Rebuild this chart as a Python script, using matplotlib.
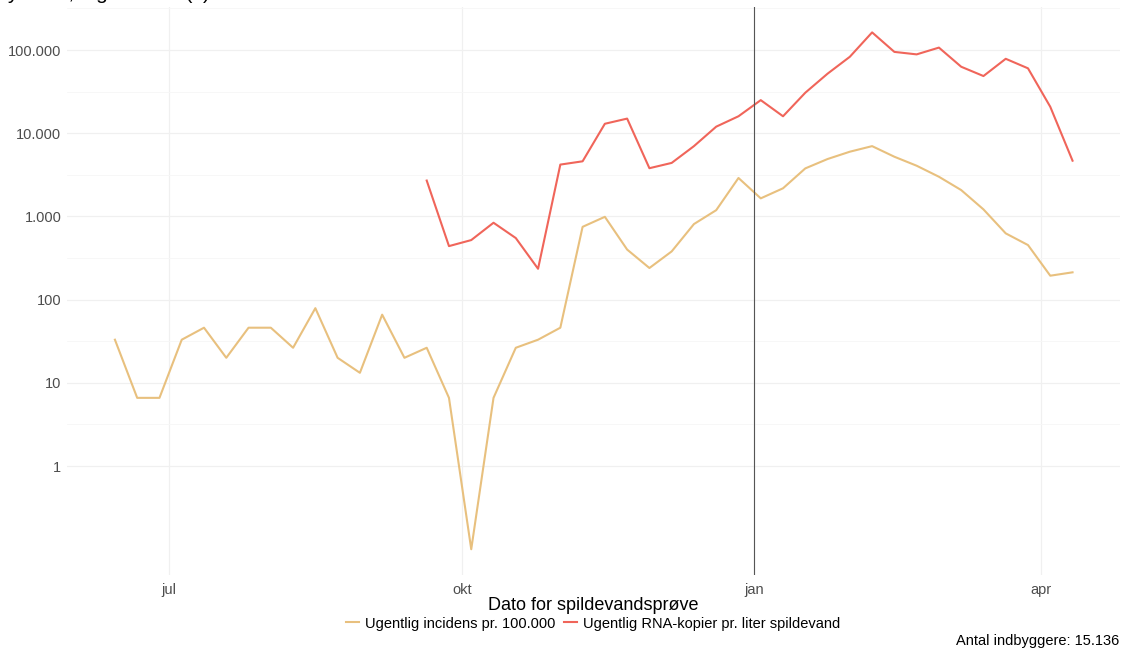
"""
Ugentlig incidens og RNA-kopier i spildevand, log-skala.
"""

import numpy as np
import pandas as pd
import matplotlib
matplotlib.use('Agg')
import matplotlib.pyplot as plt
import matplotlib.dates as mdates
from matplotlib.ticker import FixedLocator, FuncFormatter

plt.rcParams['font.family'] = ['Liberation Sans', 'DejaVu Sans']

# Weekly sample dates
dates = pd.date_range('2021-06-14', periods=44, freq='7D')

# Ugentlig incidens pr. 100.000 (all weeks)
incidens = [33, 6.6, 6.6, 33, 46, 20, 46, 46, 26.4, 79,
            20, 13.2, 66, 20, 26.4, 6.6, 0.1, 6.6, 26.4, 33,
            46, 750, 990, 400, 240, 380, 810, 1190, 2900, 1650,
            2180, 3780, 4900, 6000, 7000, 5220, 4070, 3000, 2075, 1216,
            626, 453, 194, 213]

# RNA-kopier pr. liter spildevand (from week index 14)
rna_start = 14
rna = [2700, 440, 520, 840, 550, 235, 4200, 4600, 13000, 15000,
       3800, 4400, 7000, 12000, 16000, 25000, 16000, 30700, 52000, 83000,
       163000, 95000, 88700, 107000, 63000, 48700, 78500, 60300, 20800, 4680]

y_breaks = [1, 10, 100, 1000, 10000, 100000]
x_breaks = pd.to_datetime(['2021-07-01', '2021-10-01', '2022-01-01', '2022-04-01'])
x_labels = ['jul', 'okt', 'jan', 'apr']
year_line = pd.Timestamp('2022-01-01')

col_inc = '#E8C07E'
col_rna = '#F0655A'

fig = plt.figure(figsize=(11.23, 6.55), dpi=100)
ax = fig.add_axes([0.0597, 0.122, 0.938, 0.868])

ax.plot(dates, incidens, color=col_inc, lw=1.5, label='Ugentlig incidens pr. 100.000')
ax.plot(dates[rna_start:], rna, color=col_rna, lw=1.5,
        label='Ugentlig RNA-kopier pr. liter spildevand')

ax.set_yscale('log')
ax.margins(x=0.05, y=0.05)

ax.yaxis.set_major_locator(FixedLocator(y_breaks))
ax.yaxis.set_major_formatter(FuncFormatter(lambda v, p: f'{int(v):,}'.replace(',', '.')))
ax.yaxis.set_minor_locator(FixedLocator([10 ** (k + 0.5) for k in range(0, 6)]))
ax.yaxis.set_minor_formatter(FuncFormatter(lambda v, p: ''))

ax.set_xticks(mdates.date2num(x_breaks))
ax.set_xticklabels(x_labels)

ax.grid(which='major', color='#F0F0F0', lw=0.9)
ax.grid(which='minor', axis='y', color='#F6F6F6', lw=0.6)
ax.set_axisbelow(True)
for s in ax.spines.values():
    s.set_visible(False)
ax.tick_params(which='both', length=0, labelsize=10.5, colors='#4D4D4D')
ax.tick_params(axis='y', pad=4)
ax.tick_params(axis='x', pad=6)

ax.axvline(year_line, color='#555555', lw=0.8)

ax.set_xlabel('Dato for spildevandsprøve', fontsize=13, color='black', labelpad=0)

handles, labels = ax.get_legend_handles_labels()
fig.legend(handles, labels, loc='center', bbox_to_anchor=(0.528, 0.048), ncol=2,
           frameon=False, fontsize=10.5, handlelength=0.9, handletextpad=0.4,
           columnspacing=0.6)

fig.text(0.997, 0.021, 'Antal indbyggere: 15.136', ha='right', va='center', fontsize=10.5)
# title is cropped at the top edge in the reference, only descenders show
fig.text(0.006, 1.002, 'y-akse, logaritmisk (x)', ha='left', va='baseline', fontsize=15)

plt.savefig('out.png', dpi=100)
plt.close()
